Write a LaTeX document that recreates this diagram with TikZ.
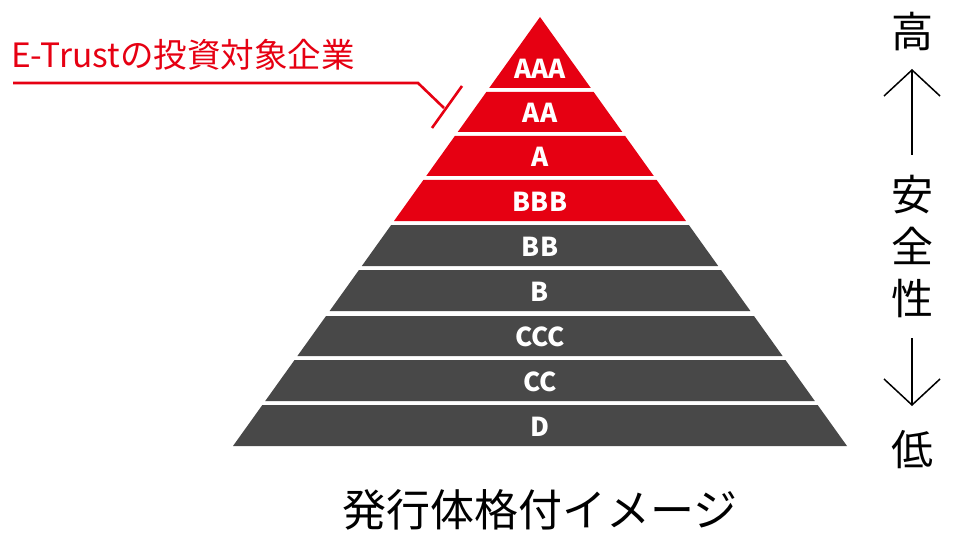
\documentclass[tikz,border=0pt]{standalone}
\usepackage{fontspec}
\setmainfont{Noto Sans CJK JP}
\usetikzlibrary{positioning,calc}
\definecolor{etred}{HTML}{E60012}
\definecolor{etgray}{HTML}{484848}
\tikzset{
    bandlabel/.style={text=white, font=\bfseries\fontsize{26}{26}\selectfont},
    side/.style={font=\fontsize{42}{42}\selectfont, inner sep=0pt},
    chev/.style={line width=1.5pt}
}
\begin{document}
\begin{tikzpicture}[x=1pt,y=-1pt]
    \useasboundingbox (0,0) rectangle (960,540);
    % pyramid bands: top, bottom, label, colour
    \foreach \yt/\yb/\lab/\col [count=\i] in {17/88/AAA/etred, 92/132/AA/etred, 136/176/A/etred, 180/221/BBB/etred,
        225/266/BB/etgray, 270/311/B/etgray, 316/356/CCC/etgray, 360/401/CC/etgray, 405/446/D/etgray}{
        \pgfmathsetmacro\halftop{0.7156*(\yt-17)}
        \pgfmathsetmacro\halfbot{0.7156*(\yb-17)}
        \fill[\col] ({540-\halftop},\yt) -- ({540+\halftop},\yt) -- ({540+\halfbot},\yb) -- ({540-\halfbot},\yb) -- cycle;
        \node[bandlabel] (band\i) at (540,{\yb-19}) {\lab};
    }
    % leader
    \node[anchor=west, text=etred, inner sep=0pt, font=\fontsize{33.5}{33.5}\selectfont] (target) at (11,55) {E-Trustの投資対象企業};
    \coordinate (l0) at (13,83);
    \coordinate (l1) at (418,83);
    \coordinate (l2) at (444,108);
    \draw[etred, line width=2.6pt] (l0) -- (l1) -- (l2);
    \coordinate (t0) at (462,86);
    \coordinate (t1) at (432,128);
    \draw[etred, line width=2.6pt] (t0) -- (t1);
    % safety scale
    \node[side] (hi) at (912,32) {高};
    \node[side, align=center, font=\fontsize{42}{52}\selectfont] (mid) at (912,246) {安\\全\\性};
    \node[side] (lo) at (912,450) {低};
    \draw[chev] (912,70) -- (912,155);
    \draw[chev] (884,96) -- (912,70) -- (940,96);
    \draw[chev] (912,338) -- (912,405);
    \draw[chev] (884,379) -- (912,405) -- (940,379);
    % caption
    \node[font=\fontsize{44}{44}\selectfont] (cap) at (540,510) {発行体格付イメージ};
\end{tikzpicture}
\end{document}
